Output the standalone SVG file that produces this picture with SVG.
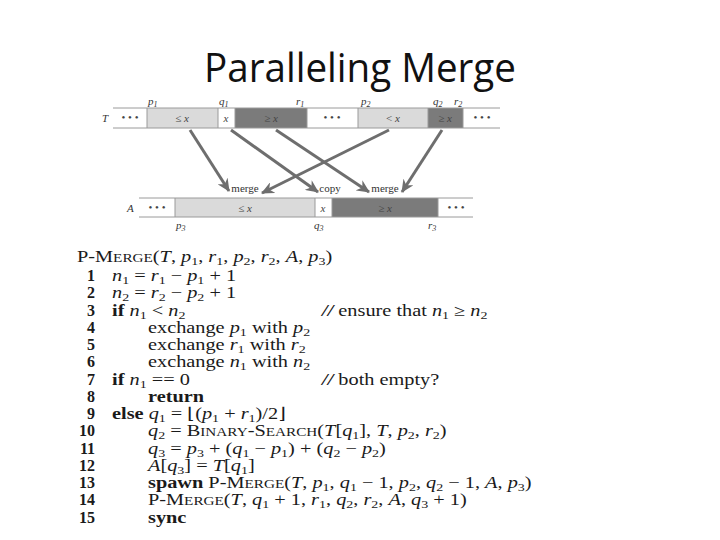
<svg xmlns="http://www.w3.org/2000/svg" width="720" height="540" viewBox="0 0 720 540">
<style>
.title{font-family:"Open Sans","Liberation Sans",sans-serif;font-size:40px;fill:#111}
.c{font-family:"Liberation Serif",serif;font-size:16px;fill:#1a1a1a}
.n{font-family:"Liberation Serif",serif;font-size:16px;fill:#1a1a1a;font-weight:bold;text-anchor:end}
.b{font-weight:bold}
.i{font-style:italic}
.s{font-size:11px}
.sc{font-size:12px}
.lab{font-family:"Liberation Serif",serif;font-size:11px;fill:#333}
.sub{font-size:8px}
.cell{font-family:"Liberation Serif",serif;font-size:11px;fill:#444;text-anchor:middle}
.light{fill:#dadada}
.dark{fill:#7b7b7b}
.white{fill:#ffffff}
.sep{stroke:#9a9a9a;stroke-width:1}
.arrow{stroke:#6e6e6e;stroke-width:3;fill:none;marker-end:url(#ah)}
</style>
<defs>
<marker id="ah" markerUnits="userSpaceOnUse" markerWidth="14" markerHeight="12" refX="12" refY="6" orient="auto">
<path d="M0,0 L13,6 L0,12 L4,6 z" fill="#6e6e6e"/>
</marker>
</defs>
<rect width="720" height="540" fill="#ffffff"/>
<text class="title" x="204" y="82" textLength="312" lengthAdjust="spacingAndGlyphs">Paralleling Merge</text>

<g id="arrayT">
<rect class="light" x="147" y="108" width="71" height="20"/>
<rect class="white" x="218" y="108" width="17" height="20"/>
<rect class="dark" x="235" y="108" width="72" height="20"/>
<rect class="light" x="358" y="108" width="70" height="20"/>
<rect class="dark" x="428" y="108" width="35" height="20"/>
<line class="sep" x1="113" y1="108" x2="500" y2="108"/>
<line class="sep" x1="113" y1="128" x2="500" y2="128"/>
<line class="sep" x1="147" y1="108" x2="147" y2="128"/>
<line class="sep" x1="218" y1="108" x2="218" y2="128"/>
<line class="sep" x1="235" y1="108" x2="235" y2="128"/>
<line class="sep" x1="307" y1="108" x2="307" y2="128"/>
<line class="sep" x1="358" y1="108" x2="358" y2="128"/>
<line class="sep" x1="428" y1="108" x2="428" y2="128"/>
<line class="sep" x1="463" y1="108" x2="463" y2="128"/>
<text class="lab i" x="102" y="122">T</text>
<text class="cell" x="130" y="121">• • •</text>
<text class="cell" x="182" y="122">≤ <tspan class="i">x</tspan></text>
<text class="cell" x="226" y="122"><tspan class="i">x</tspan></text>
<text class="cell" x="271" y="122" fill="#333">≥ <tspan class="i">x</tspan></text>
<text class="cell" x="332" y="121">• • •</text>
<text class="cell" x="393" y="122">&lt; <tspan class="i">x</tspan></text>
<text class="cell" x="445" y="122">≥ <tspan class="i">x</tspan></text>
<text class="cell" x="482" y="121">• • •</text>
<text class="lab i" x="148" y="105">p<tspan class="sub" dy="2">1</tspan></text>
<text class="lab i" x="219" y="105">q<tspan class="sub" dy="2">1</tspan></text>
<text class="lab i" x="296" y="105">r<tspan class="sub" dy="2">1</tspan></text>
<text class="lab i" x="361" y="105">p<tspan class="sub" dy="2">2</tspan></text>
<text class="lab i" x="433" y="105">q<tspan class="sub" dy="2">2</tspan></text>
<text class="lab i" x="454" y="105">r<tspan class="sub" dy="2">2</tspan></text>
</g>

<g id="arrayA">
<rect class="light" x="175" y="198" width="140" height="19"/>
<rect class="white" x="315" y="198" width="17" height="19"/>
<rect class="dark" x="332" y="198" width="106" height="19"/>
<line class="sep" x1="139" y1="198" x2="473" y2="198"/>
<line class="sep" x1="139" y1="217" x2="473" y2="217"/>
<line class="sep" x1="175" y1="198" x2="175" y2="217"/>
<line class="sep" x1="315" y1="198" x2="315" y2="217"/>
<line class="sep" x1="332" y1="198" x2="332" y2="217"/>
<line class="sep" x1="438" y1="198" x2="438" y2="217"/>
<text class="lab i" x="127" y="212">A</text>
<text class="cell" x="157" y="211">• • •</text>
<text class="cell" x="245" y="212">≤ <tspan class="i">x</tspan></text>
<text class="cell" x="323" y="212"><tspan class="i">x</tspan></text>
<text class="cell" x="385" y="212">≥ <tspan class="i">x</tspan></text>
<text class="cell" x="456" y="211">• • •</text>
<text class="lab i" x="176" y="229">p<tspan class="sub" dy="2">3</tspan></text>
<text class="lab i" x="314" y="229">q<tspan class="sub" dy="2">3</tspan></text>
<text class="lab i" x="428" y="229">r<tspan class="sub" dy="2">3</tspan></text>
<text class="lab" x="245" y="192" text-anchor="middle">merge</text>
<text class="lab" x="330" y="192" text-anchor="middle">copy</text>
<text class="lab" x="385" y="192" text-anchor="middle">merge</text>
</g>

<g id="connectors">
<line class="arrow" x1="190" y1="130" x2="229" y2="191"/>
<line class="arrow" x1="231" y1="130" x2="318" y2="192"/>
<line class="arrow" x1="276" y1="130" x2="369" y2="192"/>
<line class="arrow" x1="389" y1="130" x2="262" y2="193"/>
<line class="arrow" x1="442" y1="130" x2="402" y2="192"/>
</g>

<g id="pseudocode">
<text class="c" transform="translate(77,262) scale(1.27,1)">P-M<tspan class="sc">ERGE</tspan>(<tspan class="i">T</tspan>, <tspan class="i">p</tspan><tspan class="s" dy="3">1</tspan><tspan dy="-3">, </tspan><tspan class="i">r</tspan><tspan class="s" dy="3">1</tspan><tspan dy="-3">, </tspan><tspan class="i">p</tspan><tspan class="s" dy="3">2</tspan><tspan dy="-3">, </tspan><tspan class="i">r</tspan><tspan class="s" dy="3">2</tspan><tspan dy="-3">, </tspan><tspan class="i">A</tspan>, <tspan class="i">p</tspan><tspan class="s" dy="3">3</tspan><tspan dy="-3">)</tspan></text>

<text class="n" x="95" y="281">1</text>
<text class="n" x="95" y="298">2</text>
<text class="n" x="95" y="316">3</text>
<text class="n" x="95" y="333">4</text>
<text class="n" x="95" y="350">5</text>
<text class="n" x="95" y="367">6</text>
<text class="n" x="95" y="385">7</text>
<text class="n" x="95" y="402">8</text>
<text class="n" x="95" y="419">9</text>
<text class="n" x="95" y="436">10</text>
<text class="n" x="95" y="454">11</text>
<text class="n" x="95" y="471">12</text>
<text class="n" x="95" y="488">13</text>
<text class="n" x="95" y="505">14</text>
<text class="n" x="95" y="523">15</text>

<text class="c" transform="translate(112,281) scale(1.27,1)"><tspan class="i">n</tspan><tspan class="s" dy="3">1</tspan><tspan dy="-3"> = </tspan><tspan class="i">r</tspan><tspan class="s" dy="3">1</tspan><tspan dy="-3"> − </tspan><tspan class="i">p</tspan><tspan class="s" dy="3">1</tspan><tspan dy="-3"> + 1</tspan></text>
<text class="c" transform="translate(112,298) scale(1.27,1)"><tspan class="i">n</tspan><tspan class="s" dy="3">2</tspan><tspan dy="-3"> = </tspan><tspan class="i">r</tspan><tspan class="s" dy="3">2</tspan><tspan dy="-3"> − </tspan><tspan class="i">p</tspan><tspan class="s" dy="3">2</tspan><tspan dy="-3"> + 1</tspan></text>
<text class="c" transform="translate(112,316) scale(1.27,1)"><tspan class="b">if</tspan> <tspan class="i">n</tspan><tspan class="s" dy="3">1</tspan><tspan dy="-3"> &lt; </tspan><tspan class="i">n</tspan><tspan class="s" dy="3">2</tspan></text>
<text class="c" transform="translate(322,316) scale(1.27,1)"><tspan class="b i">//</tspan> ensure that <tspan class="i">n</tspan><tspan class="s" dy="3">1</tspan><tspan dy="-3"> ≥ </tspan><tspan class="i">n</tspan><tspan class="s" dy="3">2</tspan></text>
<text class="c" transform="translate(148,333) scale(1.27,1)">exchange <tspan class="i">p</tspan><tspan class="s" dy="3">1</tspan><tspan dy="-3"> with </tspan><tspan class="i">p</tspan><tspan class="s" dy="3">2</tspan></text>
<text class="c" transform="translate(148,350) scale(1.27,1)">exchange <tspan class="i">r</tspan><tspan class="s" dy="3">1</tspan><tspan dy="-3"> with </tspan><tspan class="i">r</tspan><tspan class="s" dy="3">2</tspan></text>
<text class="c" transform="translate(148,367) scale(1.27,1)">exchange <tspan class="i">n</tspan><tspan class="s" dy="3">1</tspan><tspan dy="-3"> with </tspan><tspan class="i">n</tspan><tspan class="s" dy="3">2</tspan></text>
<text class="c" transform="translate(112,385) scale(1.27,1)"><tspan class="b">if</tspan> <tspan class="i">n</tspan><tspan class="s" dy="3">1</tspan><tspan dy="-3"> == 0</tspan></text>
<text class="c" transform="translate(322,385) scale(1.27,1)"><tspan class="b i">//</tspan> both empty?</text>
<text class="c b" transform="translate(148,402) scale(1.27,1)">return</text>
<text class="c" transform="translate(112,419) scale(1.27,1)"><tspan class="b">else</tspan> <tspan class="i">q</tspan><tspan class="s" dy="3">1</tspan><tspan dy="-3"> = ⌊(</tspan><tspan class="i">p</tspan><tspan class="s" dy="3">1</tspan><tspan dy="-3"> + </tspan><tspan class="i">r</tspan><tspan class="s" dy="3">1</tspan><tspan dy="-3">)/2⌋</tspan></text>
<text class="c" transform="translate(148,436) scale(1.27,1)"><tspan class="i">q</tspan><tspan class="s" dy="3">2</tspan><tspan dy="-3"> = B</tspan><tspan class="sc">INARY</tspan>-S<tspan class="sc">EARCH</tspan>(<tspan class="i">T</tspan>[<tspan class="i">q</tspan><tspan class="s" dy="3">1</tspan><tspan dy="-3">], </tspan><tspan class="i">T</tspan>, <tspan class="i">p</tspan><tspan class="s" dy="3">2</tspan><tspan dy="-3">, </tspan><tspan class="i">r</tspan><tspan class="s" dy="3">2</tspan><tspan dy="-3">)</tspan></text>
<text class="c" transform="translate(148,454) scale(1.27,1)"><tspan class="i">q</tspan><tspan class="s" dy="3">3</tspan><tspan dy="-3"> = </tspan><tspan class="i">p</tspan><tspan class="s" dy="3">3</tspan><tspan dy="-3"> + (</tspan><tspan class="i">q</tspan><tspan class="s" dy="3">1</tspan><tspan dy="-3"> − </tspan><tspan class="i">p</tspan><tspan class="s" dy="3">1</tspan><tspan dy="-3">) + (</tspan><tspan class="i">q</tspan><tspan class="s" dy="3">2</tspan><tspan dy="-3"> − </tspan><tspan class="i">p</tspan><tspan class="s" dy="3">2</tspan><tspan dy="-3">)</tspan></text>
<text class="c" transform="translate(148,471) scale(1.27,1)"><tspan class="i">A</tspan>[<tspan class="i">q</tspan><tspan class="s" dy="3">3</tspan><tspan dy="-3">] = </tspan><tspan class="i">T</tspan>[<tspan class="i">q</tspan><tspan class="s" dy="3">1</tspan><tspan dy="-3">]</tspan></text>
<text class="c" transform="translate(148,488) scale(1.27,1)"><tspan class="b">spawn</tspan> P-M<tspan class="sc">ERGE</tspan>(<tspan class="i">T</tspan>, <tspan class="i">p</tspan><tspan class="s" dy="3">1</tspan><tspan dy="-3">, </tspan><tspan class="i">q</tspan><tspan class="s" dy="3">1</tspan><tspan dy="-3"> − 1, </tspan><tspan class="i">p</tspan><tspan class="s" dy="3">2</tspan><tspan dy="-3">, </tspan><tspan class="i">q</tspan><tspan class="s" dy="3">2</tspan><tspan dy="-3"> − 1, </tspan><tspan class="i">A</tspan>, <tspan class="i">p</tspan><tspan class="s" dy="3">3</tspan><tspan dy="-3">)</tspan></text>
<text class="c" transform="translate(148,505) scale(1.27,1)">P-M<tspan class="sc">ERGE</tspan>(<tspan class="i">T</tspan>, <tspan class="i">q</tspan><tspan class="s" dy="3">1</tspan><tspan dy="-3"> + 1, </tspan><tspan class="i">r</tspan><tspan class="s" dy="3">1</tspan><tspan dy="-3">, </tspan><tspan class="i">q</tspan><tspan class="s" dy="3">2</tspan><tspan dy="-3">, </tspan><tspan class="i">r</tspan><tspan class="s" dy="3">2</tspan><tspan dy="-3">, </tspan><tspan class="i">A</tspan>, <tspan class="i">q</tspan><tspan class="s" dy="3">3</tspan><tspan dy="-3"> + 1)</tspan></text>
<text class="c b" transform="translate(148,523) scale(1.27,1)">sync</text>
</g>
</svg>
